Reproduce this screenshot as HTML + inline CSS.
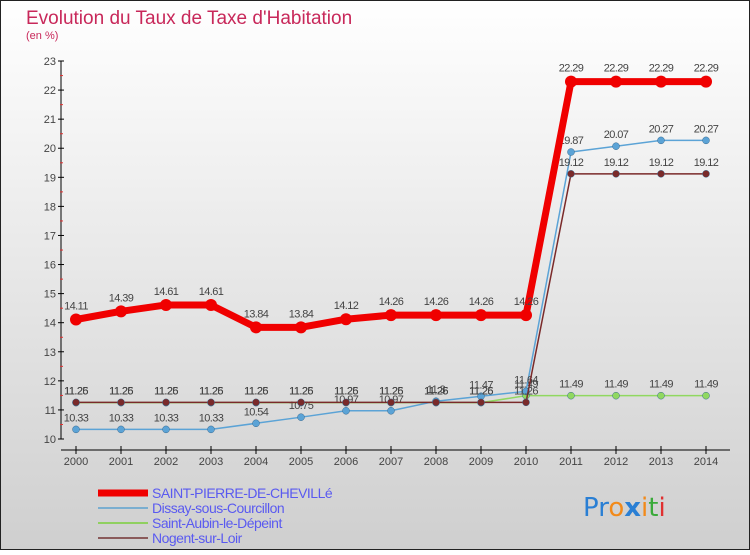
<!DOCTYPE html>
<html><head><meta charset="utf-8">
<style>
html,body{margin:0;padding:0;}
body{width:750px;height:550px;overflow:hidden;font-family:"Liberation Sans",sans-serif;}
</style></head>
<body>
<svg id="chart" width="750" height="550" xmlns="http://www.w3.org/2000/svg">
<defs><linearGradient id="bg" x1="0" y1="0" x2="0" y2="1"><stop offset="0" stop-color="#ffffff"/><stop offset="1" stop-color="#cfcfcf"/></linearGradient></defs>
<rect x="0.5" y="0.5" width="749" height="549" fill="url(#bg)" stroke="#222" stroke-width="1"/>
<text x="26" y="24" font-size="19" fill="#c8285a">Evolution du Taux de Taxe d'Habitation</text>
<text x="26" y="39" font-size="11" fill="#c8285a">(en %)</text>
<g id="plot"></g>
<g id="legend"></g>
<text x="583" y="516" font-size="26" font-family="'DejaVu Sans',sans-serif"><tspan fill="#2a7fd4">Pr</tspan><tspan fill="#f28a1a">o</tspan><tspan fill="#2a7fd4" font-weight="bold">x</tspan><tspan fill="#f28a1a">i</tspan><tspan fill="#3aaa3a">t</tspan><tspan fill="#e03030">i</tspan></text>
</svg>
<script>
const years = [2000,2001,2002,2003,2004,2005,2006,2007,2008,2009,2010,2011,2012,2013,2014];
const saintPierre = [14.11,14.39,14.61,14.61,13.84,13.84,14.12,14.26,14.26,14.26,14.26,22.29,22.29,22.29,22.29];
const dissay = [10.33,10.33,10.33,10.33,10.54,10.75,10.97,10.97,11.3,11.47,11.64,19.87,20.07,20.27,20.27];
const saintAubin = [11.25,11.25,11.25,11.25,11.25,11.25,11.25,11.25,11.25,11.25,11.49,11.49,11.49,11.49,11.49];
const nogent = [11.26,11.26,11.26,11.26,11.26,11.26,11.26,11.26,11.26,11.26,11.26,19.12,19.12,19.12,19.12];
const yTicks = [10,11,12,13,14,15,16,17,18,19,20,21,22,23];
const seriesNames = ["SAINT-PIERRE-DE-CHEVILLé","Dissay-sous-Courcillon","Saint-Aubin-le-Dépeint","Nogent-sur-Loir"];

const NS="http://www.w3.org/2000/svg";
const plot=document.getElementById('plot');
const legend=document.getElementById('legend');
const x0=76, dx=45, yBase=439, yTop=61, vMin=10, vMax=23;
function xs(i){return x0+i*dx;}
function ys(v){return yBase-(v-vMin)/(vMax-vMin)*(yBase-yTop);}
function mk(tag,attrs,parent){const e=document.createElementNS(NS,tag);for(const k in attrs)e.setAttribute(k,attrs[k]);parent.appendChild(e);return e;}

// axes
let a=mk('line',{x1:61,y1:yTop,x2:61,y2:yBase,stroke:'#000','stroke-width':1},plot);


a=mk('line',{x1:61,y1:450,x2:730,y2:450,stroke:'#000','stroke-width':1},plot);


yTicks.forEach(v=>{
  const y=ys(v);
  const t=mk('line',{x1:58,y1:y,x2:64,y2:y,stroke:'#000'},plot);
  
  
  if(v<vMax){const m=mk('line',{x1:60,y1:y-14.5,x2:63,y2:y-14.5,stroke:'#e03030'},plot);
    
    }
  const l=mk('text',{x:56,y:y+4,'font-size':11,fill:'#444','text-anchor':'end'},plot);
  l.textContent=v;
  
  
});
years.forEach((yr,i)=>{
  const x=xs(i);
  const t=mk('line',{x1:x,y1:446,x2:x,y2:454,stroke:'#000'},plot);
  
  
  const l=mk('text',{x:x,y:465,'font-size':11,fill:'#444','text-anchor':'middle'},plot);
  l.textContent=yr;
  
  
});

const series=[
  {vals:saintAubin,color:'#90d860',w:1.5,r:3.5,name:'saint-aubin'},
  {vals:dissay,color:'#5ba3d6',w:1.5,r:3.5,name:'dissay'},
  {vals:nogent,color:'#7a2a2a',w:1.5,r:3.5,name:'nogent'},
  {vals:saintPierre,color:'#f00000',w:7,r:6,name:'saint-pierre'}
];
series.forEach(s=>{
  const pts=s.vals.map((v,i)=>xs(i)+','+ys(v)).join(' ');
  const pl=mk('polyline',{points:pts,fill:'none',stroke:s.color,'stroke-width':s.w,'stroke-linejoin':'round'},plot);
  
  
  s.vals.forEach((v,i)=>{
    const c=mk('circle',{cx:xs(i),cy:ys(v),r:s.r,fill:s.color,stroke:s.name==='saint-pierre'?'none':'#3a6a90','stroke-width':0.5},plot);
    
    
    const t=mk('text',{x:xs(i),y:ys(v)-(s.name==='saint-pierre'?10:8),'font-size':11,fill:'#444','text-anchor':'middle','letter-spacing':'-0.6'},plot);
    t.textContent=v.toFixed(2).replace(/0$/,'').replace(/\.$/,'');
    
    
  });
});

// legend
const legColors=['#f00000','#7aaed0','#90d060','#8a5a5a'];
const legW=[7,2,2,2];
seriesNames.forEach((n,i)=>{
  const y=493+i*15;
  const l=mk('line',{x1:98,y1:y,x2:148,y2:y,stroke:legColors[i],'stroke-width':legW[i]},legend);
  
  
  const t=mk('text',{x:152,y:y+5,'font-size':14,fill:'#5a5af0','letter-spacing':'-0.5'},legend);
  t.textContent=n;
  
  
});
</script>
</body></html>
